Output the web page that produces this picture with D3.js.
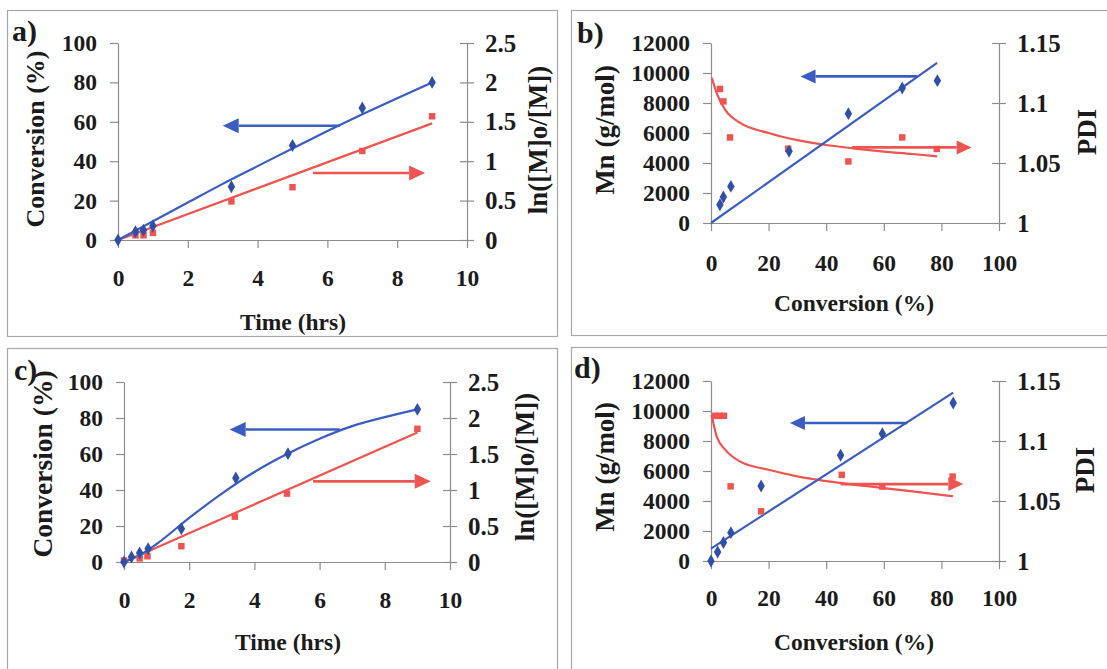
<!DOCTYPE html>
<html>
<head>
  <title>Conversion kinetics</title>
  <meta charset="UTF-8">
  <script src="https://cdn.jsdelivr.net/npm/d3@7"></script>
  <style>
    body { margin: 0; background: #fff; }
    text { font-family: "Liberation Serif", "Times New Roman", serif; font-weight: bold; fill: #1b1b1b; }
  </style>
</head>
<body>
<svg id="chart" width="1107" height="669"></svg>
<script>
  // panel a) conversion vs time, ln([M]o/[M]) vs time
  const aConvTime = [0, 0.5, 0.73, 1, 3.25, 5, 7, 9];
  const aConv = [0, 4.2, 5, 7.1, 27, 48, 67, 80];
  const aLnTime = [0.5, 0.73, 1, 3.25, 5, 7, 9];
  const aLn = [0.06, 0.06, 0.09, 0.49, 0.67, 1.13, 1.57];
  const aConvFitTime = [0, 1, 2, 3, 4, 5, 6, 7, 8, 9];
  const aConvFit = [0, 9.5, 19, 28.5, 37.5, 46.5, 55.3, 63.8, 72, 80];
  const aLnFitTime = [0, 9];
  const aLnFit = [0, 1.48];
  const aBlueArrow = [[6.36, 58], [3.0, 58]];
  const aRedArrow = [[5.59, 0.85], [8.8, 0.85]];

  // panel b) Mn and PDI vs conversion
  const bMnConv = [3.1, 4.3, 6.9, 27.1, 47.7, 66.4, 78.6];
  const bMn = [1220, 1730, 2440, 4780, 7290, 9000, 9490];
  const bPdiConv = [3.1, 4.3, 6.6, 26.8, 47.7, 66.4, 78.4];
  const bPdi = [1.1117, 1.1013, 1.0713, 1.0619, 1.0513, 1.0713, 1.0617];
  const bMnFitConv = [0, 78.5];
  const bMnFit = [0, 10670];
  const bPdiFitConv = [0.3, 2, 5, 10, 20, 30, 40, 50, 60, 70, 78.5];
  const bPdiFit = [1.121, 1.108, 1.094, 1.0836, 1.075, 1.069, 1.065, 1.062, 1.0595, 1.0575, 1.0555];
  const bBlueArrow = [[71.6, 9773], [31.1, 9773]];
  const bRedArrow = [[49, 1.063], [90.5, 1.063]];

  // panel c) conversion vs time, ln([M]o/[M]) vs time
  const cConvTime = [0, 0.23, 0.48, 0.74, 1.76, 3.43, 5.03, 9];
  const cConv = [0, 2.8, 5, 7.4, 18.5, 46.7, 60.2, 84.8];
  const cLnTime = [0, 0.48, 0.72, 1.76, 3.4, 5, 9];
  const cLn = [0.02, 0.05, 0.08, 0.22, 0.63, 0.95, 1.85];
  const cConvFitTime = [0, 0.5, 1, 2, 3, 4, 5, 6, 7, 8, 9];
  const cConvFit = [0, 4, 10, 24.5, 38, 50, 60, 68.5, 75.5, 80.5, 84.8];
  const cLnFitTime = [0, 9];
  const cLnFit = [0, 1.8];
  const cBlueArrow = [[6.62, 73.6], [3.24, 73.6]];
  const cRedArrow = [[5.8, 1.12], [9.41, 1.12]];

  // panel d) Mn and PDI vs conversion
  const dMnConv = [0, 2.3, 4.3, 6.9, 17.4, 45, 59.5, 84.1];
  const dMn = [0, 600, 1230, 1890, 5000, 7050, 8490, 10530];
  const dPdiConv = [1.5, 3, 4.5, 6.8, 17.4, 45.4, 59.5, 83.9];
  const dPdi = [1.121, 1.121, 1.121, 1.0622, 1.0414, 1.0718, 1.062, 1.0704];
  const dMnFitConv = [0, 84.1];
  const dMnFit = [827, 11230];
  const dPdiFitConv = [0.2, 2, 5, 10, 20, 30, 40, 50, 60, 70, 84];
  const dPdiFit = [1.1216, 1.1036, 1.0926, 1.083, 1.076, 1.0705, 1.0665, 1.0635, 1.0608, 1.058, 1.054];
  const dBlueArrow = [[68.2, 9200], [27.4, 9200]];
  const dRedArrow = [[45, 1.0641], [87.6, 1.0641]];

  const timeTicks = [0, 2, 4, 6, 8, 10];
  const convTicks = [0, 20, 40, 60, 80, 100];
  const lnTicks = [0, 0.5, 1, 1.5, 2, 2.5];
  const mnTicks = [0, 2000, 4000, 6000, 8000, 10000, 12000];
  const pdiTicks = [1, 1.05, 1.1, 1.15];

  const BLUE = '#3b5cc2';
  const BLUE_MARK = '#2f4fa8';
  const RED = '#ee5450';
  const AXIS = '#8c8c8c';

  const svg = d3.select('#chart');

  const zip = (xs, ys) => xs.map((x, i) => [x, ys[i]]);

  function drawPanel(p)
  {
    svg.append('rect')
      .attr('x', p.box[0] + 0.5).attr('y', p.box[1] + 0.5)
      .attr('width', p.box[2]).attr('height', p.box[3])
      .attr('fill', 'none').attr('stroke', '#a8a8a8').attr('stroke-width', 1.2);

    const x = d3.scaleLinear().domain(p.xDomain).range(p.xRange);
    const yl = d3.scaleLinear().domain(p.ylDomain).range(p.yRange);
    const yr = d3.scaleLinear().domain(p.yrDomain).range(p.yRange);
    const g = svg.append('g');

    const xAxis = g.append('g').attr('transform', `translate(0,${p.yRange[0]})`)
      .call(d3.axisBottom(x).tickValues(p.xTicks).tickSize(8).tickSizeOuter(0).tickPadding(p.xPad));
    const lAxis = g.append('g').attr('transform', `translate(${p.xRange[0]},0)`)
      .call(d3.axisLeft(yl).tickValues(p.ylTicks).tickFormat(d3.format('d')).tickSize(8).tickSizeOuter(0).tickPadding(13));
    const rAxis = g.append('g').attr('transform', `translate(${p.xRange[1]},0)`)
      .call(d3.axisRight(yr).tickValues(p.yrTicks).tickFormat(d => String(+d.toFixed(2))).tickSize(7).tickSizeOuter(0).tickPadding(11));
    rAxis.selectAll('.tick line').attr('x1', -7);

    [xAxis, lAxis, rAxis].forEach(a =>
    {
      a.select('.domain').attr('stroke', AXIS).attr('stroke-width', 1.2);
      a.selectAll('.tick line').attr('stroke', AXIS).attr('stroke-width', 1.2);
      a.selectAll('text').attr('font-size', a === rAxis ? 25 : 23.5).attr('fill', '#1b1b1b')
        .style('font-family', '"Liberation Serif", serif').style('font-weight', 'bold');
    });

    const blueLine = d3.line().x(d => x(d[0])).y(d => yl(d[1])).curve(d3.curveMonotoneX);
    const redLine = d3.line().x(d => x(d[0])).y(d => yr(d[1])).curve(d3.curveMonotoneX);

    g.append('path').attr('d', redLine(zip(p.redFitX, p.redFitY)))
      .attr('fill', 'none').attr('stroke', RED).attr('stroke-width', 2.2);
    g.append('path').attr('d', blueLine(zip(p.blueFitX, p.blueFitY)))
      .attr('fill', 'none').attr('stroke', BLUE).attr('stroke-width', 2.2);

    g.selectAll(null).data(zip(p.redX, p.redY)).enter().append('path')
      .attr('transform', d => `translate(${x(d[0])},${yr(d[1])})`)
      .attr('d', d3.symbol(d3.symbolSquare, 42)).attr('fill', RED);
    g.selectAll(null).data(zip(p.blueX, p.blueY)).enter().append('path')
      .attr('transform', d => `translate(${x(d[0])},${yl(d[1])})`)
      .attr('d', d3.symbol(d3.symbolDiamond, 48)).attr('fill', BLUE_MARK);

    drawArrow(g, p.blueArrow.map(d => [x(d[0]), yl(d[1])]), BLUE, p.head);
    drawArrow(g, p.redArrow.map(d => [x(d[0]), yr(d[1])]), RED, p.head);

    svg.append('text').text(p.letter).attr('x', p.letterPos[0]).attr('y', p.letterPos[1]).attr('font-size', 30);
    svg.append('text').text(p.xTitle).attr('x', p.xTitlePos[0]).attr('y', p.xTitlePos[1])
      .attr('text-anchor', 'middle').attr('dominant-baseline', 'central').attr('font-size', 23.5);
    svg.append('text').text(p.lTitle)
      .attr('transform', `translate(${p.lTitlePos[0]},${p.lTitlePos[1]}) rotate(-90)`)
      .attr('text-anchor', 'middle').attr('dominant-baseline', 'central').attr('font-size', p.lTitleSize);
    svg.append('text').text(p.rTitle)
      .attr('transform', `translate(${p.rTitlePos[0]},${p.rTitlePos[1]}) rotate(-90)`)
      .attr('text-anchor', 'middle').attr('dominant-baseline', 'central').attr('font-size', 27);
  }

  function drawArrow(g, pts, color, head)
  {
    const [from, to] = pts;
    const dir = Math.sign(to[0] - from[0]);
    const base = to[0] - dir * head[0];
    g.append('line').attr('x1', from[0]).attr('y1', from[1]).attr('x2', base).attr('y2', to[1])
      .attr('stroke', color).attr('stroke-width', 2.6);
    g.append('path')
      .attr('d', `M${to[0]},${to[1]}L${base},${to[1] - head[1] / 2}L${base},${to[1] + head[1] / 2}Z`)
      .attr('fill', color);
  }

  drawPanel({
    box: [7, 10, 550, 326], letter: 'a)', letterPos: [12, 41],
    xDomain: [0, 10], xRange: [118, 467], yRange: [240, 43], xPad: 21,
    ylDomain: [0, 100], yrDomain: [0, 2.5],
    xTicks: timeTicks, ylTicks: convTicks, yrTicks: lnTicks,
    blueX: aConvTime, blueY: aConv, redX: aLnTime, redY: aLn,
    blueFitX: aConvFitTime, blueFitY: aConvFit, redFitX: aLnFitTime, redFitY: aLnFit,
    blueArrow: aBlueArrow, redArrow: aRedArrow, head: [16, 15],
    xTitle: 'Time (hrs)', xTitlePos: [293, 322],
    lTitle: 'Conversion (%)', lTitlePos: [35, 139], lTitleSize: 26,
    rTitle: 'ln([M]o/[M])', rTitlePos: [538, 140]
  });

  drawPanel({
    box: [571, 10, 560, 325], letter: 'b)', letterPos: [577, 43],
    xDomain: [0, 100], xRange: [711, 999], yRange: [223, 43], xPad: 23,
    ylDomain: [0, 12000], yrDomain: [1, 1.15],
    xTicks: convTicks, ylTicks: mnTicks, yrTicks: pdiTicks,
    blueX: bMnConv, blueY: bMn, redX: bPdiConv, redY: bPdi,
    blueFitX: bMnFitConv, blueFitY: bMnFit, redFitX: bPdiFitConv, redFitY: bPdiFit,
    blueArrow: bBlueArrow, redArrow: bRedArrow, head: [15, 14],
    xTitle: 'Conversion (%)', xTitlePos: [854, 303],
    lTitle: 'Mn (g/mol)', lTitlePos: [605, 130], lTitleSize: 27,
    rTitle: 'PDI', rTitlePos: [1087, 132]
  });

  drawPanel({
    box: [7, 348, 550, 340], letter: 'c)', letterPos: [14, 380],
    xDomain: [0, 10], xRange: [124, 450], yRange: [562, 382], xPad: 21,
    ylDomain: [0, 100], yrDomain: [0, 2.5],
    xTicks: timeTicks, ylTicks: convTicks, yrTicks: lnTicks,
    blueX: cConvTime, blueY: cConv, redX: cLnTime, redY: cLn,
    blueFitX: cConvFitTime, blueFitY: cConvFit, redFitX: cLnFitTime, redFitY: cLnFit,
    blueArrow: cBlueArrow, redArrow: cRedArrow, head: [16, 15],
    xTitle: 'Time (hrs)', xTitlePos: [288, 642],
    lTitle: 'Conversion (%)', lTitlePos: [42, 464], lTitleSize: 27.5,
    rTitle: 'ln([M]o/[M])', rTitlePos: [525, 467]
  });

  drawPanel({
    box: [571, 347, 560, 340], letter: 'd)', letterPos: [574, 378],
    xDomain: [0, 100], xRange: [711, 999], yRange: [561, 381], xPad: 20,
    ylDomain: [0, 12000], yrDomain: [1, 1.15],
    xTicks: convTicks, ylTicks: mnTicks, yrTicks: pdiTicks,
    blueX: dMnConv, blueY: dMn, redX: dPdiConv, redY: dPdi,
    blueFitX: dMnFitConv, blueFitY: dMnFit, redFitX: dPdiFitConv, redFitY: dPdiFit,
    blueArrow: dBlueArrow, redArrow: dRedArrow, head: [15, 14],
    xTitle: 'Conversion (%)', xTitlePos: [854, 642],
    lTitle: 'Mn (g/mol)', lTitlePos: [605, 467], lTitleSize: 27,
    rTitle: 'PDI', rTitlePos: [1085, 470]
  });
</script>
</body>
</html>
